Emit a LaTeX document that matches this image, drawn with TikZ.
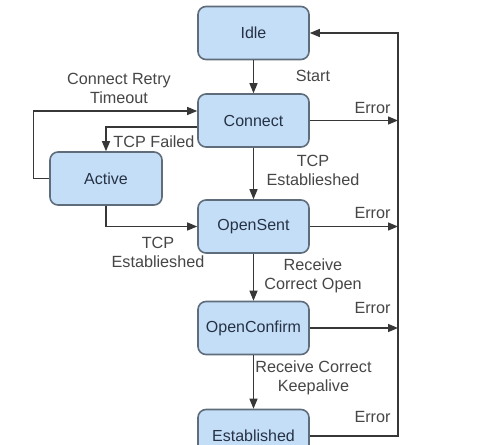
\documentclass[tikz,border=0pt]{standalone}
\usepackage{fontspec}
\setmainfont{Liberation Sans}
\usetikzlibrary{arrows.meta}
\definecolor{boxfill}{RGB}{196,222,248}
\definecolor{boxedge}{RGB}{95,108,122}
\definecolor{boxtext}{RGB}{38,50,68}
\definecolor{linecol}{RGB}{55,55,55}
\definecolor{labtext}{RGB}{70,70,70}
\tikzset{
  state/.style={draw=boxedge, line width=1.6pt, fill=boxfill, rounded corners=8pt,
    minimum width=111pt, minimum height=53pt, inner sep=0pt,
    text=boxtext, font=\fontsize{16}{19}\selectfont},
  lab/.style={text=labtext, align=center, inner sep=0pt, font=\fontsize{16.2}{19}\selectfont},
  conn/.style={draw=linecol, line width=1.3pt},
  arr/.style={conn, -{Triangle[length=10pt,width=8pt]}}
}
\begin{document}
\begin{tikzpicture}[x=1pt,y=-1pt]
\useasboundingbox (0,0) rectangle (499,445);
\clip (0,0) rectangle (499,445);
\fill[white] (0,0) rectangle (499,445);
% states
\node[state] (Idle) at (253.5,33) {Idle};
\node[state] (Connect) at (253.5,120.5) {Connect};
\node[state, minimum width=112pt] (Active) at (106,178.5) {Active};
\node[state] (OpenSent) at (253.5,226.5) {OpenSent};
\node[state] (OpenConfirm) at (253.5,328) {OpenConfirm};
\node[state] (Established) at (253.5,436) {Established};
\coordinate (rail) at (398,0);
% main vertical flow
\draw[arr] (Idle) -- (Connect);
\draw[arr] (Connect) -- (OpenSent);
\draw[arr] (OpenSent) -- (OpenConfirm);
\draw[arr] (OpenConfirm) -- (Established);
% errors
\draw[arr] (Connect.east) -- (Connect.east -| rail);
\draw[arr] (OpenSent.east) -- (OpenSent.east -| rail);
\draw[arr] (OpenConfirm.east) -- (OpenConfirm.east -| rail);
\draw[arr] (Established.east) -| (Idle.east -| rail) -- (Idle.east);
% left side
\draw[arr] (Active.west) -- ++(-16,0) |- ([yshift=9.5pt]Connect.west);
\draw[arr] ([yshift=-6.5pt]Connect.west) -| (Active.north);
\draw[arr] (Active.south) |- (OpenSent.west);
% labels
\node[lab] (lStart) at (313,76) {Start};
\node[lab] (lTcp1) at (313,170.5) {TCP\\Establieshed};
\node[lab] (lRco) at (313,275.5) {Receive\\Correct Open};
\node[lab] (lRck) at (313.5,377.5) {Receive Correct\\Keepalive};
\node[lab] (lRetry) at (119,88.5) {Connect Retry\\Timeout};
\node[lab] (lFail) at (154,142) {TCP Failed};
\node[lab] (lTcp2) at (158,252.5) {TCP\\Establieshed};
\node[lab] (e1) at (372.5,108) {Error};
\node[lab] (e2) at (372.5,213) {Error};
\node[lab] (e3) at (372.5,308) {Error};
\node[lab] (e4) at (372.5,417) {Error};
\end{tikzpicture}
\end{document}
